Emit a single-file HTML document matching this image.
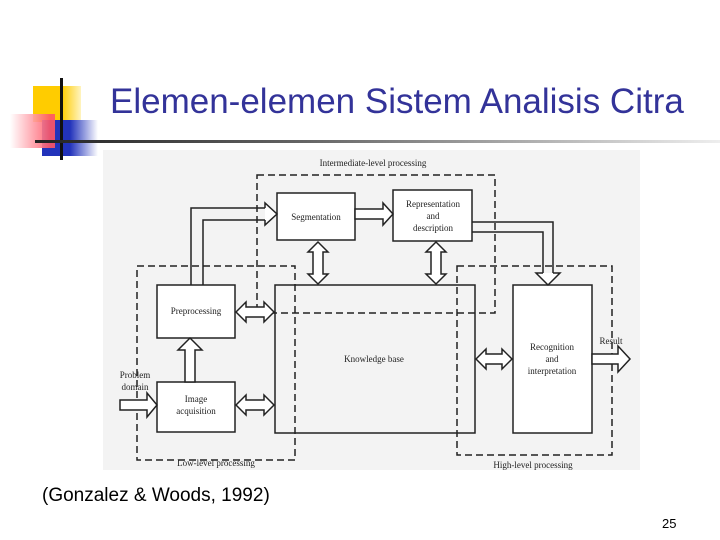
<!DOCTYPE html>
<html><head><meta charset="utf-8"><style>
body{margin:0;width:720px;height:540px;background:#fff;position:relative;overflow:hidden;font-family:"Liberation Sans",sans-serif}
.t{position:absolute;left:110px;top:82px;font-size:35px;color:#333399;white-space:nowrap}
</style></head><body>
<div style="position:absolute;left:33px;top:86px;width:48px;height:36px;background:linear-gradient(90deg,#ffcc00 60%,#fff4c0)"></div>
<div style="position:absolute;left:42px;top:120px;width:56px;height:36px;background:linear-gradient(90deg,#2233bb 50%,#fff)"></div>
<div style="position:absolute;left:10px;top:114px;width:45px;height:34px;background:linear-gradient(90deg,#fff,#ff5566 90%);opacity:.9"></div>
<div style="position:absolute;left:60px;top:78px;width:3px;height:82px;background:#111"></div>
<div style="position:absolute;left:35px;top:140px;width:685px;height:3px;background:linear-gradient(90deg,#222,#666 40%,#eee)"></div>
<div class="t">Elemen-elemen Sistem Analisis Citra</div>
<svg style="position:absolute;left:0;top:0" width="720" height="540" font-family="Liberation Serif,serif" font-size="9">
<rect x="103" y="150" width="537" height="320" fill="#f3f3f3"/>
<g fill="none" stroke="#222" stroke-width="1.5" stroke-dasharray="7,4">
<rect x="257" y="175" width="238" height="138"/>
<rect x="137" y="266" width="158" height="194"/>
<rect x="457" y="266" width="155" height="189"/>
</g>
<g fill="#fff" stroke="#222" stroke-width="1.5">
<rect x="277" y="193" width="78" height="47"/>
<rect x="393" y="190" width="79" height="51"/>
<rect x="157" y="285" width="78" height="53"/>
<rect x="157" y="382" width="78" height="50"/>
<rect x="275" y="285" width="200" height="148" fill="none"/>
<rect x="513" y="285" width="79" height="148"/>
<polygon points="236,312 246,302 246,307 264,307 264,302 274,312 264,322 264,317 246,317 246,322"/>
<polygon points="236,405 246,395 246,400 264,400 264,395 274,405 264,415 264,410 246,410 246,415"/>
<polygon points="476,359 486,349 486,354 502,354 502,349 512,359 502,369 502,364 486,364 486,369"/>
<polygon points="318,242 308,252 313,252 313,274 308,274 318,284 328,274 323,274 323,252 328,252"/>
<polygon points="436,242 426,252 431,252 431,274 426,274 436,284 446,274 441,274 441,252 446,252"/>
<polygon points="120,400 147,400 147,393 157,405 147,417 147,410 120,410"/>
<polygon points="592,354 618,354 618,346 630,359 618,372 618,364 592,364"/>
<polygon points="185,382 185,350 178,350 190,338 202,350 195,350 195,382"/>
<polygon points="355,209 383,209 383,203 393,214 383,225 383,219 355,219"/>
<polyline fill="none" points="191,285 191,208 265,208"/>
<polyline fill="none" points="203,285 203,220 265,220"/>
<polyline points="265,208 265,203 277,214 265,225 265,220"/>
<polyline fill="none" points="472,222 553,222 553,273"/>
<polyline fill="none" points="472,232 543,232 543,273"/>
<polyline points="543,273 536,273 548,285 560,273 553,273"/>
</g>
<g fill="#222" text-anchor="middle">
<text x="373" y="166">Intermediate-level processing</text>
<text x="316" y="220">Segmentation</text>
<text x="433" y="207">Representation</text><text x="433" y="219">and</text><text x="433" y="231">description</text>
<text x="196" y="314">Preprocessing</text>
<text x="196" y="402">Image</text><text x="196" y="414">acquisition</text>
<text x="374" y="362">Knowledge base</text>
<text x="552" y="350">Recognition</text><text x="552" y="362">and</text><text x="552" y="374">interpretation</text>
<text x="611" y="344">Result</text>
<text x="135" y="378">Problem</text><text x="135" y="390">domain</text>
<text x="216" y="466">Low-level processing</text>
<text x="533" y="468">High-level processing</text>
</g>
</svg>
<div style="position:absolute;left:42px;top:485px;font-size:19px;color:#000">(Gonzalez &amp; Woods, 1992)</div>
<div style="position:absolute;left:662px;top:516px;font-size:13px;color:#000">25</div>
</body></html>
